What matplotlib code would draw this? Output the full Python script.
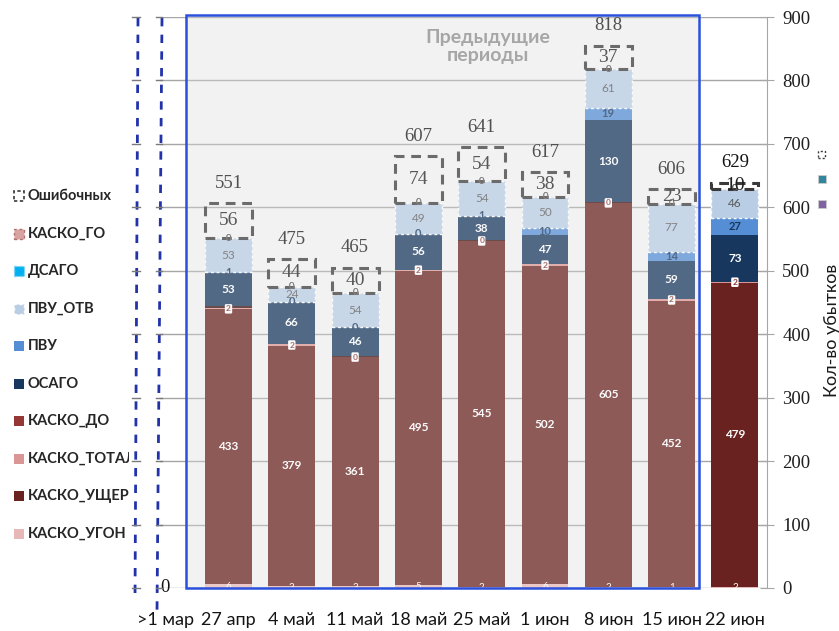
import matplotlib
matplotlib.use("Agg")
import matplotlib.pyplot as plt
import numpy as np
from matplotlib.patches import Rectangle
from matplotlib.lines import Line2D
from matplotlib.transforms import Bbox, TransformedBbox, blended_transform_factory

# ---------------- data ----------------
categories = [">1 мар", "27 апр", "4 май", "11 май", "18 май", "25 май",
              "1 июн", "8 июн", "15 июн", "22 июн"]
kasko_ugon   = [0, 6, 3, 3, 5, 2, 6, 2, 1, 2]
kasko_usherb = [0, 433, 379, 361, 495, 545, 502, 605, 452, 479]
kasko_total  = [0, 2, 2, 0, 2, 0, 2, 0, 2, 2]
kasko_do     = [0, 3, 1, 1, 0, 1, 0, 1, 1, 0]
osago        = [0, 53, 66, 46, 56, 38, 47, 130, 59, 73]
pvu          = [0, 1, 0, 0, 0, 1, 10, 19, 14, 27]
pvu_otv      = [0, 53, 24, 54, 49, 54, 50, 61, 77, 46]
dsago        = [0, 0, 0, 0, 0, 0, 0, 0, 0, 0]
kasko_go     = [0, 0, 0, 0, 0, 0, 0, 0, 0, 0]
oshibochnyh  = [0, 56, 44, 40, 74, 54, 38, 37, 23, 10]

# ---------------- figure ----------------
W, H = 839, 631
fig = plt.figure(figsize=(W / 100, H / 100), dpi=100)
fig.patch.set_facecolor("white")

def fx(px):
    return px / W

def fy(py):
    return 1 - py / H

ax = fig.add_axes([fx(160), fy(588), (767 - 160) / W, (588 - 17) / H])
ax.set_facecolor("none")

SANS = ["Lato", "DejaVu Sans"]
SERIF = ["Liberation Serif", "DejaVu Serif"]

x = np.arange(len(categories))
width = 0.74

series = [
    ("КАСКО_УГОН", kasko_ugon, dict(facecolor="#E6B9B8", edgecolor="none"),
     dict(color="white", fontsize=7, clip_on=True)),
    ("КАСКО_УЩЕРБ", kasko_usherb, dict(facecolor="#6A2220", edgecolor="none"),
     dict(color="white", fontsize=8.5, fontweight="bold")),
    ("КАСКО_ТОТАЛ", kasko_total, dict(facecolor="#D99694", edgecolor="none"),
     dict(color="#8a3a38", fontsize=6, fontweight="bold",
          bbox=dict(boxstyle="round,pad=0.15", fc="white", ec="none"))),
    ("КАСКО_ДО", kasko_do, dict(facecolor="#3a0f0e", edgecolor="none"), None),
    ("ОСАГО", osago, dict(facecolor="#17375E", edgecolor="none"),
     dict(color="white", fontsize=8.5, fontweight="bold")),
    ("ПВУ", pvu, dict(facecolor="#558ED5", edgecolor="none"),
     dict(color="#17375E", fontsize=8, fontweight="bold")),
    ("ПВУ_ОТВ", pvu_otv, dict(facecolor="#B9CDE5", edgecolor="white",
                              linestyle=(0, (2, 2)), linewidth=1.0),
     dict(color="#595959", fontsize=8.5)),
    ("ДСАГО", dsago, dict(facecolor="#00B0F0", edgecolor="#7fd4f5",
                          linestyle=(0, (2, 2)), linewidth=1.0),
     dict(color="#595959", fontsize=7)),
    ("КАСКО_ГО", kasko_go, dict(facecolor="#D9A3A1", edgecolor="#b07070",
                                linestyle=(0, (2, 2)), linewidth=1.0),
     dict(color="#595959", fontsize=7)),
]

bottom = np.zeros(len(categories))
handles = {}
for name, vals, style, lab in series:
    vals = np.asarray(vals, dtype=float)
    bars = ax.bar(x, vals, width, bottom=bottom, zorder=3, **style)
    handles[name] = style
    for i, p in enumerate(bars.patches):
        if vals[i] == 0:
            p.set_visible(False)
    if lab is not None:
        for i in range(len(x)):
            if i == 0:
                continue
            ax.text(x[i], bottom[i] + vals[i] / 2, f"{int(vals[i])}",
                    ha="center", va="center", zorder=6, family=SANS, **lab)
    bottom = bottom + vals

totals = bottom.copy()

# Ошибочных: dashed outline boxes
err = np.asarray(oshibochnyh, dtype=float)
ebars = ax.bar(x, err, width, bottom=bottom, fill=False, edgecolor="#3a3a3a",
               linestyle=(0, (3.2, 2.2)), linewidth=2.2, zorder=5)
for i, p in enumerate(ebars.patches):
    if err[i] == 0:
        p.set_visible(False)
    else:
        ax.text(x[i], bottom[i] + err[i] / 2, f"{int(err[i])}", ha="center",
                va="center", fontsize=14, color="#1f1f1f", family=SERIF, zorder=6)
handles["Ошибочных"] = dict(fill=False, edgecolor="#3a3a3a", linestyle=(0, (2, 1.5)),
                           linewidth=1.2)

tops = bottom + err
for i in range(len(x)):
    yy = tops[i] + 31 if tops[i] > 0 else 0
    ax.text(x[i], yy, f"{int(totals[i])}", ha="center", va="center",
            fontsize=13.5, color="#141414", family=SERIF, zorder=6)

# "previous periods" region
x0, x1, ytop = 0.33, 8.43, 903
ax.add_patch(Rectangle((x0, 0), x1 - x0, ytop, facecolor="#F2F2F2",
                       edgecolor="none", zorder=0.2, clip_on=False))
ax.add_patch(Rectangle((x0, 0), x1 - x0, ytop, facecolor="#F2F2F2",
                       edgecolor="none", alpha=0.27, zorder=10, clip_on=False))
ax.add_patch(Rectangle((x0, 0), x1 - x0, ytop, fill=False,
                       edgecolor="#2B50DC", linewidth=1.8, zorder=11, clip_on=False))
ax.text(5.1, 853, "Предыдущие\nпериоды", ha="center", va="center", fontsize=14,
        fontweight="bold", color="#A6A6A6", family=SANS, zorder=12, linespacing=1.05)

# axes styling
ax.set_xlim(-0.082, 9.507)
ax.set_ylim(0, 900)
ax.set_yticks(range(0, 1000, 100))
ax.yaxis.tick_right()
ax.set_axisbelow(True)
ax.yaxis.grid(True, color="#A6A6A6", linewidth=1.0)
for s in ["left", "top", "bottom"]:
    ax.spines[s].set_visible(False)
ax.spines["right"].set_color("#A6A6A6")
ax.tick_params(axis="y", direction="inout", length=10, color="#A6A6A6",
               labelsize=13.5, pad=6, labelcolor="#1f1f1f")
for t in ax.get_yticklabels():
    t.set_family(SERIF)
ax.set_xticks(x, categories)
ax.tick_params(axis="x", length=0, pad=17, labelsize=13, labelcolor="#141414")
for t in ax.get_xticklabels():
    t.set_family(SANS)

fig.text(fx(832), fy(330), "Кол-во убытков", rotation=90, ha="center",
         va="center", fontsize=13, color="#1a1a1a", family=SANS)

# left dashed guide lines with small tick marks at the grid levels
for (xa, ya, xb, yb) in [(138, 18, 135, 600), (162, 18, 157, 612)]:
    fig.add_artist(Line2D([fx(xa), fx(xb)], [fy(ya), fy(yb)], transform=fig.transFigure,
                          color="#2233AA", linestyle=(0, (3, 3)), linewidth=2))
btr = blended_transform_factory(fig.transFigure, ax.transData)
for yv in ax.get_yticks():
    fig.add_artist(Line2D([fx(132), fx(140)], [yv, yv], transform=btr,
                          color="#7a7a7a", linewidth=1))
    fig.add_artist(Line2D([fx(156), fx(162)], [yv, yv], transform=btr,
                          color="#7a7a7a", linewidth=1))

# legend (left)
legend_order = ["Ошибочных", "КАСКО_ГО", "ДСАГО", "ПВУ_ОТВ", "ПВУ", "ОСАГО",
                "КАСКО_ДО", "КАСКО_ТОТАЛ", "КАСКО_УЩЕРБ", "КАСКО_УГОН"]
clipbox = TransformedBbox(Bbox.from_extents(0, 0, fx(129), 1), fig.transFigure)
for k, name in enumerate(legend_order):
    yc = 196 + k * 37.5
    st = dict(handles[name])
    if name == "КАСКО_ДО":
        st = dict(facecolor="#953735", edgecolor="none")
    fig.add_artist(Rectangle((fx(14), fy(yc + 5)), 10 / W, 10 / H,
                             transform=fig.transFigure, **st))
    t = fig.text(fx(28), fy(yc), name, ha="left", va="center", fontsize=10.5,
                 fontweight="bold", color="#262626", family=SANS)
    t.set_clip_box(clipbox)
    t.set_clip_on(True)

# partially visible legend markers at the right edge
fig.add_artist(Rectangle((fx(818), fy(158)), 7 / W, 7 / H, transform=fig.transFigure,
                         fill=False, edgecolor="#3a3a3a", linestyle=(0, (1.5, 1.5)),
                         linewidth=1))
fig.add_artist(Rectangle((fx(818), fy(183)), 8 / W, 8 / H, transform=fig.transFigure,
                         facecolor="#31859C", edgecolor="#cccccc", linewidth=0.6))
fig.add_artist(Rectangle((fx(818), fy(208)), 8 / W, 8 / H, transform=fig.transFigure,
                         facecolor="#8064A2", edgecolor="#cccccc", linewidth=0.6))

fig.savefig("out.png", dpi=100)
